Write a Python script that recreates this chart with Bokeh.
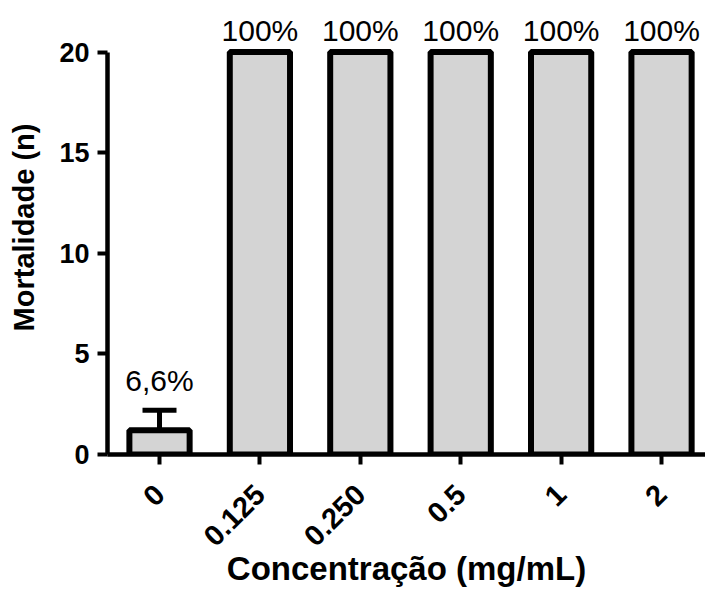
import math
from bokeh.plotting import figure
from bokeh.models import Range1d, FixedTicker, Whisker, TeeHead, ColumnDataSource
from bokeh.embed import file_html
from bokeh.resources import INLINE
from bokeh.core.properties import value

# ---- data ----
categories = ["0", "0.125", "0.250", "0.5", "1", "2"]
mortality = [1.2, 20, 20, 20, 20, 20]
error_up = [1.0, 0, 0, 0, 0, 0]
pct_labels = ["6,6%", "100%", "100%", "100%", "100%", "100%"]
y_ticks = [0, 5, 10, 15, 20]

FONT = "Liberation Sans"
idx = list(range(len(categories)))
tops = [m + e for m, e in zip(mortality, error_up)]
label_offsets = [-30 if e > 0 else -22 for e in error_up]

src = ColumnDataSource(dict(x=idx, top=mortality, tops=tops, lab=pct_labels,
                            off=label_offsets))
err_idx = [i for i in idx if error_up[i] > 0]
err_src = ColumnDataSource(dict(x=err_idx,
                                lower=[mortality[i] for i in err_idx],
                                upper=[tops[i] for i in err_idx]))

p = figure(width=705, height=594, output_backend="svg", toolbar_location=None,
           x_range=Range1d(-0.518, 5.438), y_range=Range1d(0, 22.56),
           min_border_left=107, min_border_bottom=140, min_border_top=0,
           min_border_right=0)

p.vbar(x="x", top="top", bottom=0, width=0.6, source=src,
       fill_color="#d4d4d4", line_color="black", line_width=6)

wh = Whisker(base="x", lower="lower", upper="upper", source=err_src,
             line_color="black", line_width=5,
             upper_head=TeeHead(size=34, line_width=5, line_color="black"),
             lower_head=None)
p.add_layout(wh)

p.text(x="x", y="tops", text="lab", source=src, y_offset="off",
       text_align="center", text_baseline="alphabetic",
       text_font=value(FONT), text_font_size="30px", text_color="black")

p.outline_line_color = None
p.xgrid.visible = False
p.ygrid.visible = False

# y axis
ya = p.yaxis[0]
ya.ticker = FixedTicker(ticks=y_ticks)
ya.bounds = (0, 20)
ya.axis_line_width = 4.5
ya.axis_line_color = "black"
ya.major_tick_line_width = 4
ya.major_tick_line_color = "black"
ya.major_tick_out = 10
ya.major_tick_in = 0
ya.minor_tick_line_color = None
ya.major_label_text_font = FONT
ya.major_label_text_font_style = "bold"
ya.major_label_text_font_size = "27px"
ya.major_label_text_color = "black"
ya.major_label_standoff = 8
ya.axis_label = "Mortalidade (n)"
ya.axis_label_text_font = FONT
ya.axis_label_text_font_style = "bold"
ya.axis_label_text_font_size = "29px"
ya.axis_label_text_color = "black"
ya.axis_label_standoff = 16

# x axis
xa = p.xaxis[0]
xa.ticker = FixedTicker(ticks=idx)
xa.major_label_overrides = {i: c for i, c in zip(idx, categories)}
xa.major_label_orientation = math.pi / 4
xa.axis_line_width = 4.5
xa.axis_line_color = "black"
xa.major_tick_line_width = 4
xa.major_tick_line_color = "black"
xa.major_tick_out = 10
xa.major_tick_in = 0
xa.minor_tick_line_color = None
xa.major_label_text_font = FONT
xa.major_label_text_font_style = "bold"
xa.major_label_text_font_size = "29px"
xa.major_label_text_color = "black"
xa.major_label_standoff = 25
xa.axis_label = "Concentração (mg/mL)"
xa.axis_label_text_font = FONT
xa.axis_label_text_font_style = "bold"
xa.axis_label_text_font_size = "33px"
xa.axis_label_text_color = "black"
xa.axis_label_standoff = -8

open("out.html", "w").write(file_html(p, INLINE))
